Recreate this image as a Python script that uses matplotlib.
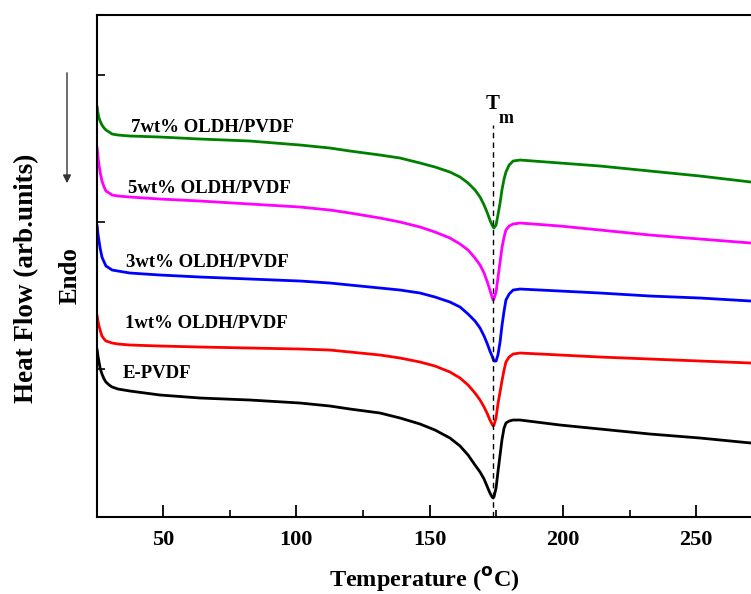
import numpy as np
import matplotlib
matplotlib.use('Agg')
import matplotlib.pyplot as plt

plt.rcParams['font.family'] = 'Liberation Serif'
plt.rcParams['font.weight'] = 'bold'

# shared temperature grid (oC)
temp = [25.3, 25.6, 26.0, 26.4, 27.1, 27.9, 28.6, 29.8, 30.9, 33.1,
        37.6, 48.9, 63.9, 82.6, 101.4, 112.6, 120.1, 131.4, 138.9, 146.4,
        152.0, 157.6, 161.4, 164.4, 167.0, 168.9, 170.4, 171.5, 172.6, 173.4,
        173.8, 174.1, 174.9, 175.6, 176.4, 177.1, 177.9, 178.6, 179.8, 181.3,
        183.9, 198.9, 213.9, 232.6, 251.4, 270.5]

# heat flow (arb. units), vertically offset curves
h_7wt = [410, 404, 399, 396, 392, 389, 387, 385, 383, 382,
         381, 380, 378, 376, 372, 369, 366, 362, 359, 354,
         350, 345, 340, 334, 327, 320, 312, 305, 297, 292,
         290, 289, 292, 302, 314, 327, 338, 345, 352, 356,
         357, 354, 351, 346, 341, 335]
h_5wt = [369, 360, 352, 345, 336, 330, 326, 324, 322, 321,
         320, 318, 316, 313, 310, 307, 304, 299, 295, 290,
         285, 279, 273, 267, 259, 252, 244, 236, 227, 220,
         217, 218, 225, 239, 255, 269, 280, 287, 291, 293,
         294, 291, 287, 282, 278, 274]
h_3wt = [291, 283, 276, 269, 260, 255, 251, 249, 247, 246,
         244, 242, 240, 238, 236, 234, 232, 229, 227, 224,
         220, 215, 210, 203, 196, 189, 181, 174, 166, 161,
         158, 156, 156, 162, 175, 191, 206, 217, 223, 227,
         228, 226, 224, 221, 219, 216]
h_1wt = [201, 196, 191, 187, 181, 178, 176, 175, 174, 173,
         172, 171, 170, 169, 168, 167, 165, 162, 159, 155,
         151, 145, 139, 132, 124, 117, 110, 104, 97, 93,
         91, 92, 99, 113, 125, 136, 147, 155, 160, 163,
         164, 162, 160, 158, 156, 154]
h_pvdf = [167, 161, 155, 149, 143, 138, 135, 132, 130, 128,
          126, 122, 119, 117, 114, 111, 108, 104, 99, 93,
          87, 79, 71, 62, 52, 45, 38, 31, 24, 20,
          19, 20, 29, 45, 62, 77, 89, 94, 96, 97,
          97, 92, 88, 83, 79, 74]

labels = ['7wt% OLDH/PVDF', '5wt% OLDH/PVDF', '3wt% OLDH/PVDF', '1wt% OLDH/PVDF', 'E-PVDF']
label_t = [38.0, 36.9, 36.1, 35.8, 35.0]
label_h = [390, 329, 255, 194, 144]
colors = ['#008000', '#ff00ff', '#0000ff', '#ff0000', '#000000']

tm = 173.7

fig = plt.figure(figsize=(7.51, 5.94), dpi=100)
ax = fig.add_axes([0.1292, 0.1296, 0.940, 0.8451])

curves = [h_7wt, h_5wt, h_3wt, h_1wt, h_pvdf]
for h, c, lab, lt, lh in zip(curves, colors, labels, label_t, label_h):
    ax.plot(temp, h, color=c, lw=2.0)
    ax.text(lt, lh, lab, fontsize=13.5, fontweight='bold', va='center', ha='left')

ax.plot([tm, tm], [0, 392], color='black', lw=1.0, ls=(0, (4, 3)))
ax.text(tm, 413, 'T', fontsize=15, fontweight='bold', ha='center', va='center')
ax.text(tm + 5, 399, 'm', fontsize=13, fontweight='bold', ha='center', va='center')

ax.set_xlim(25.25, 290)
ax.set_ylim(0, 502)
ax.set_xticks([50, 100, 150, 200, 250])
ax.set_xticks([75, 125, 175, 225, 275], minor=True)
ax.set_yticks([148, 295, 442])
ax.set_yticklabels([])
ax.tick_params(axis='x', which='major', direction='in', length=9, width=1.3, labelsize=16, pad=9)
ax.tick_params(axis='x', which='minor', direction='in', length=5, width=1.2)
ax.tick_params(axis='y', direction='in', length=6, width=1.2)
for lab in ax.get_xticklabels():
    lab.set_fontweight('bold')
for s in ax.spines.values():
    s.set_linewidth(1.5)

fig.text(424 / 751, 1 - 579 / 594, 'Temperature ($\\mathbf{^o}$C)', fontsize=17.5,
         fontweight='bold', ha='center', va='center')
fig.text(27 / 751, 1 - 278 / 594, 'Heat Flow (arb.units)', rotation=90, fontsize=19.5,
         fontweight='bold', ha='center', va='center')
fig.text(70 / 751, 1 - 276 / 594, 'Endo', rotation=90, fontsize=18,
         fontweight='bold', ha='center', va='center')
fig.add_artist(matplotlib.patches.FancyArrowPatch((67 / 751, 1 - 70 / 594), (67 / 751, 1 - 186 / 594),
               transform=fig.transFigure, arrowstyle='-|>', mutation_scale=12,
               color='#333333', lw=1.0))

fig.savefig('out.png', dpi=100)
